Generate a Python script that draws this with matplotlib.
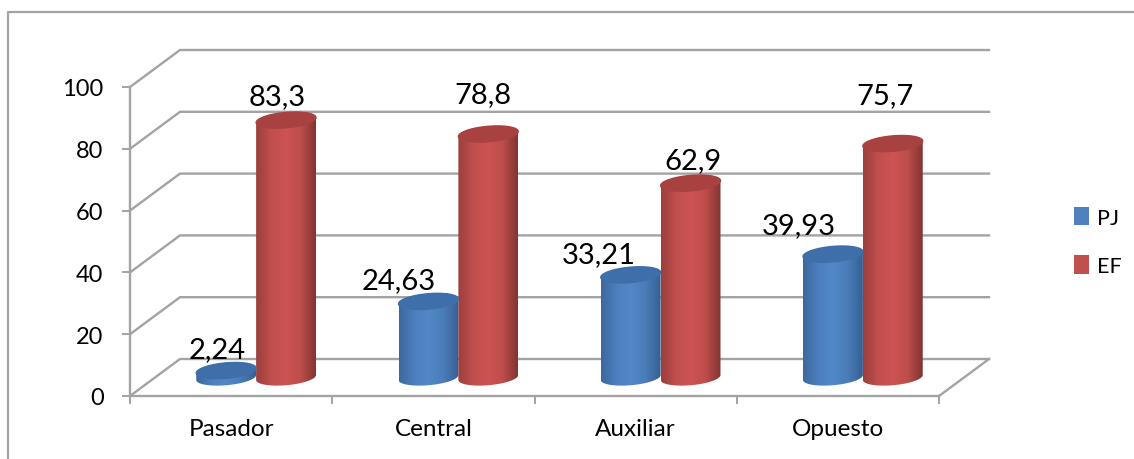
import numpy as np
import matplotlib.pyplot as plt
from matplotlib.colors import LinearSegmentedColormap
from matplotlib.lines import Line2D
from matplotlib.patches import Patch, Polygon

categories = ["Pasador", "Central", "Auxiliar", "Opuesto"]
pj = [2.24, 24.63, 33.21, 39.93]
ef = [83.3, 78.8, 62.9, 75.7]
pj_labels = ["2,24", "24,63", "33,21", "39,93"]
ef_labels = ["83,3", "78,8", "62,9", "75,7"]
yticks = [0, 20, 40, 60, 80, 100]

# label offsets from the bar top, pixels (they were moved by hand in the original)
pj_off = [(-9, 22), (-30, 21), (-32, 21), (-34, 29)]
ef_off = [(-9, 24), (-5, 40), (2, 23), (-8, 49)]

W, H = 1134, 460
GREY = "#a3a3a3"
plt.rcParams["font.family"] = ["Lato", "DejaVu Sans"]

fig = plt.figure(figsize=(W / 100, H / 100), dpi=100)
ax = fig.add_axes([130 / W, 1 - 397 / H, 809 / W, 309 / H])
ax.set_xlim(0, 4)
ax.set_ylim(0, 100)

# 3d look: how far the back wall sits from the front plane
depth_x = 50 / (809 / 4)
depth_y = 37 / 3.09
bar_w = 0.296
ell_h = 5.0  # height of the cylinder ellipse in y units
tilt = 0.8


def ellipse_pts(cx, y, lower=True, upper=True):
    t0 = 0 if upper else np.pi
    t1 = 2 * np.pi if (upper and lower) else (np.pi if upper else 2 * np.pi)
    t = np.linspace(t0, t1, 60)
    xs = cx + bar_w / 2 * np.cos(t)
    ys = y + ell_h / 2 * np.sin(t) + tilt * np.cos(t)
    return xs, ys


def cylinder(cx, value, cmap, top_color):
    base = depth_y / 2
    top = base + value
    xb, yb = ellipse_pts(cx, base, upper=False)
    xt, yt = ellipse_pts(cx, top, lower=False)
    body = Polygon(np.r_[np.c_[xb, yb], np.c_[xt, yt]], closed=True,
                   transform=ax.transData, fc="none", ec="none")
    ax.add_patch(body)
    grad = np.linspace(0, 1, 128).reshape(1, -1)
    im = ax.imshow(grad, cmap=cmap, aspect="auto", zorder=3,
                   extent=[cx - bar_w / 2, cx + bar_w / 2, base - ell_h, top + ell_h])
    im.set_clip_path(body)
    im.set_clip_on(True)
    xe, ye = ellipse_pts(cx, top)
    ax.fill(xe, ye, color=top_color, zorder=3.5, clip_on=False)


blue_map = LinearSegmentedColormap.from_list("b", ["#3c689e", "#4c7fbd", "#5288c8", "#4a7cb8", "#365f92"])
red_map = LinearSegmentedColormap.from_list("r", ["#9a3f3d", "#c04f4d", "#cd5453", "#bd4d4b", "#823433"])

# walls
for v in yticks:
    ax.plot([0, depth_x, 4 + depth_x], [v, v + depth_y, v + depth_y], color=GREY, lw=1.7,
            clip_on=False, zorder=1, solid_joinstyle="miter")
ax.plot([4, 4 + depth_x], [0, depth_y], color=GREY, lw=1.7, clip_on=False, zorder=1)

for i in range(len(categories)):
    center = i + 0.5 + depth_x / 2
    cylinder(center - bar_w / 2, pj[i], blue_map, "#3f6fab")
    cylinder(center + bar_w / 2, ef[i], red_map, "#a84240")
    ax.annotate(pj_labels[i], (center - bar_w / 2, pj[i] + depth_y / 2), xytext=pj_off[i],
                textcoords="offset pixels", ha="center", va="center", fontsize=21, zorder=5)
    ax.annotate(ef_labels[i], (center + bar_w / 2, ef[i] + depth_y / 2), xytext=ef_off[i],
                textcoords="offset pixels", ha="center", va="center", fontsize=21, zorder=5)

ax.set_xlim(0, 4)
ax.set_ylim(0, 100)
ax.patch.set_visible(False)
for s in ["top", "right"]:
    ax.spines[s].set_visible(False)
for s in ["left", "bottom"]:
    ax.spines[s].set_color(GREY)
    ax.spines[s].set_linewidth(1.7)

ax.set_yticks(yticks)
ax.tick_params(axis="y", length=6, width=1.4, color=GREY, labelsize=17, pad=13)
ax.set_xticks(range(5))
ax.set_xticklabels([])
ax.tick_params(axis="x", which="major", length=6, width=1.4, color=GREY)
ax.set_xticks(np.arange(4) + 0.5, minor=True)
ax.set_xticklabels(categories, minor=True)
ax.tick_params(axis="x", which="minor", length=0, labelsize=17.5, pad=16)

handles = [Patch(fc="#4f81bd", label="PJ"), Patch(fc="#c0504d", label="EF")]
fig.legend(handles=handles, loc="center left", bbox_to_anchor=(1055 / W, 1 - 242.5 / H), frameon=False,
           fontsize=15.5, handlelength=0.7, handleheight=0.95, handletextpad=0.33, labelspacing=1.3)

# chart frame
fig.add_artist(Line2D([8 / W, 8 / W, 1], [0, 1 - 13 / H, 1 - 13 / H], color=GREY, lw=1.6))

fig.savefig("out.png", dpi=100)
